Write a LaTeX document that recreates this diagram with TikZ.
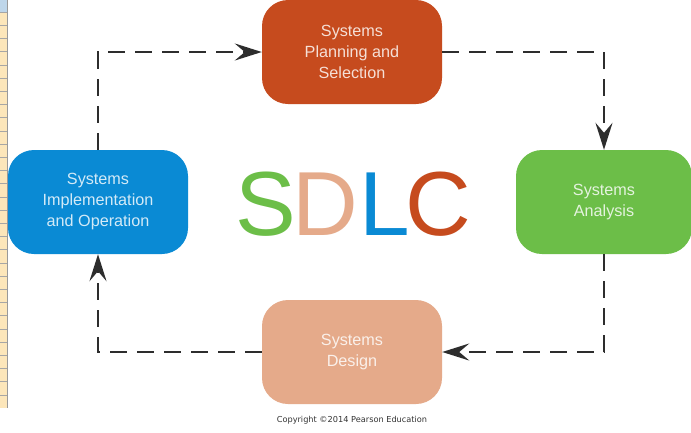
\documentclass[tikz,border=0pt]{standalone}
\usepackage{fontspec}
\setmainfont{Liberation Sans}
\newfontfamily\copyfont{DejaVu Sans}
\usetikzlibrary{arrows.meta}
\definecolor{planred}{RGB}{198,75,30}
\definecolor{analgreen}{RGB}{108,190,72}
\definecolor{designpeach}{RGB}{229,170,138}
\definecolor{implblue}{RGB}{10,138,212}
\definecolor{flowgray}{RGB}{45,45,45}
\definecolor{cellfill}{RGB}{252,230,186}
\definecolor{cellhead}{RGB}{190,214,234}
\begin{document}
\begin{tikzpicture}[x=1pt,y=-1pt,
  phase/.style={rounded corners=26pt, minimum width=180pt, minimum height=104pt,
    fill=#1, text=white!82!#1, align=center, inner sep=0pt,
    font=\fontsize{16.2}{21}\selectfont},
  flow/.style={draw=flowgray, line width=2.4pt, dash pattern=on 17pt off 10pt,
    -{Stealth[length=27pt,width=17pt,inset=10pt]}},
  letter/.style={anchor=base, inner sep=0pt, font=\fontsize{91}{91}\selectfont}]
\useasboundingbox (0,0) rectangle (691,432);
\fill[white] (0,0) rectangle (691,432);

% narrow column of spreadsheet cells along the left edge
\fill[cellfill] (0,0) rectangle (7,408);
\fill[cellhead] (0,0) rectangle (7,12);
\foreach \k in {0,...,29} {
  \draw[black!35, line width=0.5pt] (0,{12+13.2*\k}) -- (7,{12+13.2*\k});
}
\draw[black!40, line width=0.6pt] (7,0) -- (7,408);

% the four phases
\node[phase=planred]     (plan)   at (352,52)  {Systems\\Planning and\\Selection};
\node[phase=analgreen, minimum width=176pt] (anal) at (604,202) {Systems\\Analysis};
\node[phase=designpeach] (design) at (352,352) {Systems\\Design};
\node[phase=implblue]    (impl)   at (98,202)  {Systems\\Implementation\\and Operation};

% cycle connectors
\draw[flow] (impl.north) |- (plan.west);
\draw[flow] (plan.east) -| (anal.north);
\draw[flow] (anal.south) |- (design.east);
\draw[flow] (design.west) -| (impl.south);

% central title
\node[letter, text=analgreen]   (tS) at (266,235) {S};
\node[letter, text=designpeach] (tD) at (325,235) {D};
\node[letter, text=implblue]    (tL) at (385,235) {L};
\node[letter, text=planred]     (tC) at (438,235) {C};

% copyright line
\node[font=\copyfont\fontsize{8.2}{9}\selectfont, text=black!80, inner sep=0pt]
  (copy) at (352,420) {Copyright \textcopyright2014 Pearson Education};
\end{tikzpicture}
\end{document}
